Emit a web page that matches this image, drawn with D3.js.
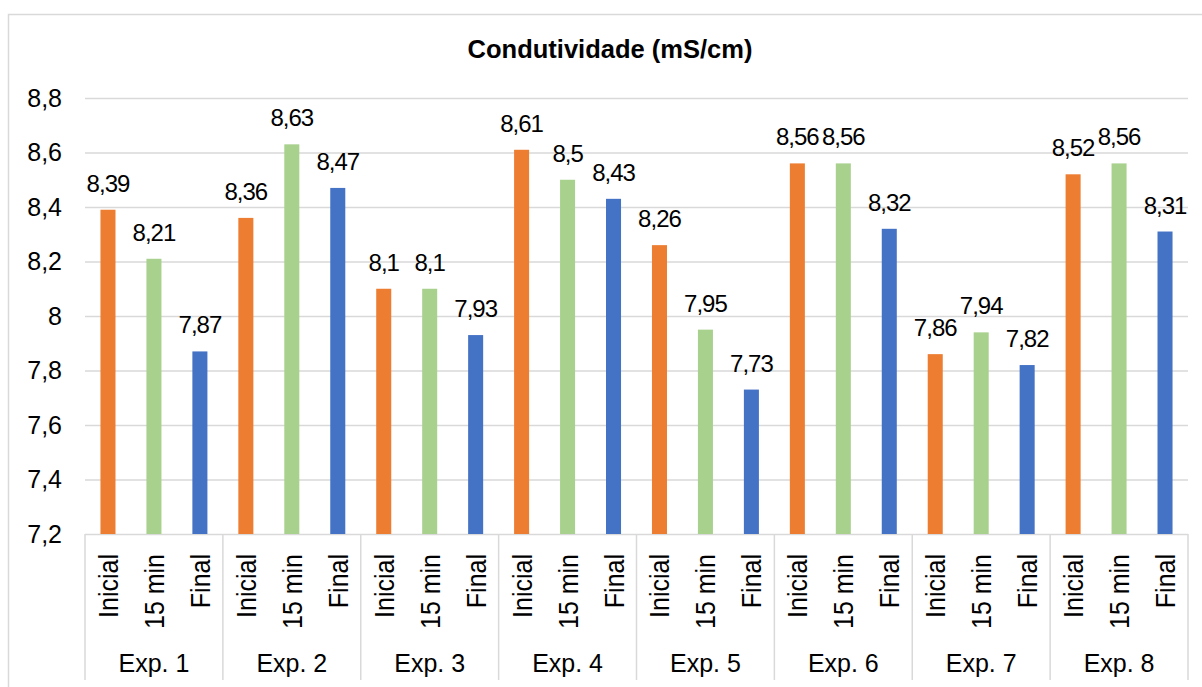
<!DOCTYPE html>
<html>
<head>
<meta charset="utf-8">
<script src="https://cdn.jsdelivr.net/npm/d3@7"></script>
<style>
  html, body { margin: 0; padding: 0; background: #fff; }
  svg { display: block; }
  text { font-family: "Liberation Sans", Arial, sans-serif; fill: #000; }
</style>
</head>
<body>
<svg id="chart" width="1202" height="687"></svg>
<script>
// Conductivity readings per experiment, three sampling moments each
const experiments = ["Exp. 1", "Exp. 2", "Exp. 3", "Exp. 4", "Exp. 5", "Exp. 6", "Exp. 7", "Exp. 8"];
const moments = ["Inicial", "15 min", "Final"];
const inicial = [8.39, 8.36, 8.1, 8.61, 8.26, 8.56, 7.86, 8.52];
const min15 = [8.21, 8.63, 8.1, 8.5, 7.95, 8.56, 7.94, 8.56];
const final = [7.87, 8.47, 7.93, 8.43, 7.73, 8.32, 7.82, 8.31];
const yTicks = [7.2, 7.4, 7.6, 7.8, 8.0, 8.2, 8.4, 8.6, 8.8];
const title = "Condutividade (mS/cm)";

const seriesValues = [inicial, min15, final];
const colors = ["#ED7D31", "#A9D18E", "#4472C4"];

const svg = d3.select("#chart");
const plot = { left: 85, right: 1188, top: 98, bottom: 534 };

// chart frame
svg.append("rect")
  .attr("x", 8.5).attr("y", 14.5)
  .attr("width", 1203).attr("height", 680)
  .attr("fill", "#fff").attr("stroke", "#D9D9D9").attr("stroke-width", 1.5);

const fmt = v => String(+v.toFixed(2)).replace(".", ",");

const y = d3.scaleLinear().domain([7.2, 8.8]).range([plot.bottom, plot.top]);
const x0 = d3.scaleBand().domain(experiments).range([plot.left, plot.right]).padding(0);
const x1 = d3.scaleBand().domain(moments).range([0, x0.bandwidth()])
  .paddingInner(0.673).paddingOuter(0.3365);

// gridlines and y labels
const yAxis = d3.axisLeft(y).tickValues(yTicks).tickSize(-(plot.right - plot.left))
  .tickFormat(fmt).tickPadding(23);
const gy = svg.append("g").attr("transform", `translate(${plot.left},0)`).call(yAxis);
gy.select(".domain").remove();
gy.selectAll(".tick line").attr("stroke", "#D9D9D9").attr("stroke-width", 1.5);
gy.selectAll(".tick text").attr("font-size", 25).attr("fill", "#000")
  .attr("font-family", "Liberation Sans, Arial, sans-serif");

// bars
const rows = experiments.map((e, i) => ({ exp: e, vals: moments.map((m, j) => ({ m, j, v: seriesValues[j][i] })) }));
const groups = svg.append("g").selectAll("g").data(rows).join("g")
  .attr("transform", d => `translate(${x0(d.exp)},0)`);

groups.selectAll("rect").data(d => d.vals).join("rect")
  .attr("x", d => x1(d.m))
  .attr("width", x1.bandwidth())
  .attr("y", d => y(d.v))
  .attr("height", d => y(7.2) - y(d.v))
  .attr("fill", d => colors[d.j]);

// value labels
groups.selectAll("text.val").data(d => d.vals).join("text")
  .attr("class", "val")
  .attr("x", d => x1(d.m) + x1.bandwidth() / 2)
  .attr("y", d => y(d.v) - 18)
  .attr("text-anchor", "middle")
  .attr("font-size", 24)
  .attr("letter-spacing", -1)
  .text(d => fmt(d.v));

// category axis: group separators, rotated moment labels, experiment names
const bounds = experiments.map(e => x0(e)).concat([plot.right]);
svg.append("g").selectAll("line").data(bounds).join("line")
  .attr("x1", d => d).attr("x2", d => d)
  .attr("y1", plot.bottom).attr("y2", 680)
  .attr("stroke", "#D9D9D9").attr("stroke-width", 1.5);

groups.selectAll("text.mom").data(d => d.vals).join("text")
  .attr("class", "mom")
  .attr("transform", d => `translate(${x1(d.m) + x1.bandwidth() / 2 + 10},554) rotate(-90) scale(1,1.12)`)
  .attr("text-anchor", "end")
  .attr("font-size", 25)
  .text(d => d.m);

groups.append("text")
  .attr("x", x0.bandwidth() / 2)
  .attr("y", 672)
  .attr("text-anchor", "middle")
  .attr("font-size", 25)
  .text(d => d.exp);

// title
svg.append("text")
  .attr("x", 610).attr("y", 58)
  .attr("text-anchor", "middle")
  .attr("font-size", 25.5)
  .attr("font-weight", "bold")
  .text(title);
</script>
</body>
</html>
